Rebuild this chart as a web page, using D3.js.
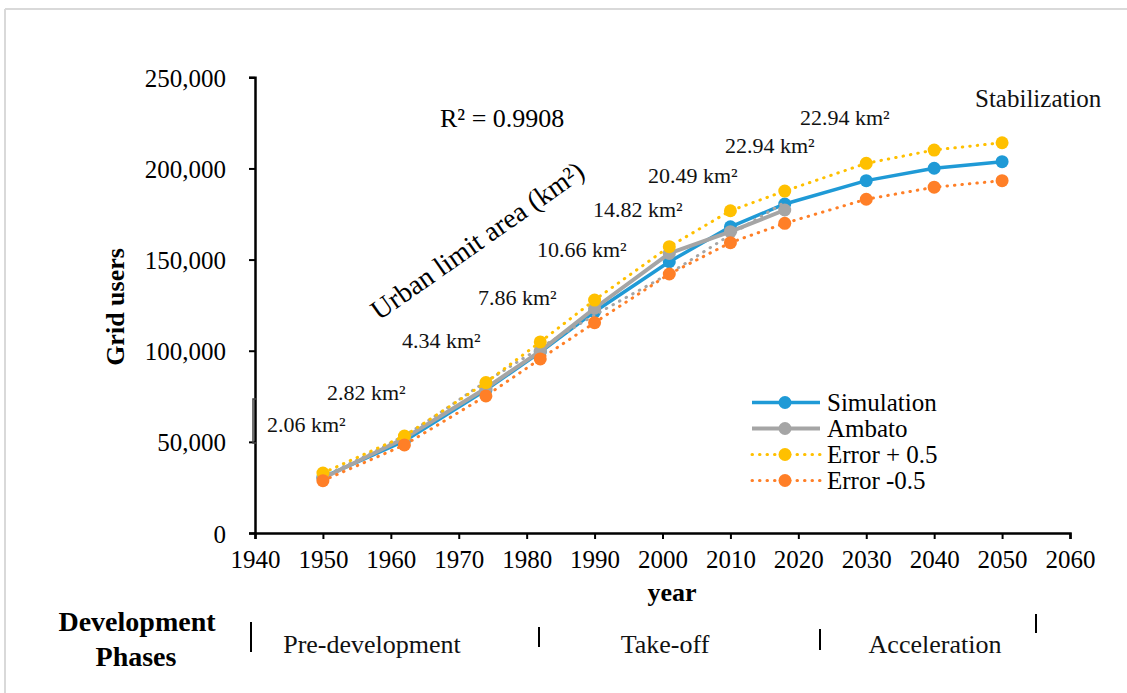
<!DOCTYPE html>
<html>
<head>
<meta charset="utf-8">
<script src="https://cdn.jsdelivr.net/npm/d3@7/dist/d3.min.js"></script>
<style>
  html, body { margin: 0; padding: 0; background: #fff; }
  svg { display: block; }
</style>
</head>
<body>
<svg id="chart" width="1127" height="693" font-family="Liberation Serif"></svg>
<script>
// ---- data ----
const years = [1950, 1962, 1974, 1982, 1990, 2001, 2010, 2018, 2030, 2040, 2050];
const simulation = [30500, 50500, 78500, 99300, 121400, 148800, 168000, 180500, 193300, 200100, 203700];
const ambatoYears = [1950, 1962, 1974, 1982, 1990, 2001, 2010, 2018];
const ambato = [30000, 52000, 79400, 99800, 123300, 153400, 165300, 177200];
const errorPlus = [32900, 53200, 82500, 104800, 127800, 157100, 176800, 187600, 202800, 210100, 214100];
const errorMinus = [28700, 48300, 75200, 95500, 115400, 142100, 159300, 169900, 183100, 189700, 193300];
const trendYears = [1950, 1962, 1974, 1982, 1990, 2001, 2010, 2018];
const trend = [31000, 53500, 83000, 101500, 119500, 142500, 163500, 181500];
const xTicks = [1940, 1950, 1960, 1970, 1980, 1990, 2000, 2010, 2020, 2030, 2040, 2050, 2060];
const yTicks = [0, 50000, 100000, 150000, 200000, 250000];
const areaLabels = ["2.06 km²", "2.82 km²", "4.34 km²", "7.86 km²", "10.66 km²", "14.82 km²", "20.49 km²", "22.94 km²", "22.94 km²"];
const phases = ["Pre-development", "Take-off", "Acceleration"];

const FONT = "Liberation Serif";
const svg = d3.select("#chart");

// frame
svg.append("line").attr("x1", 5).attr("y1", 9).attr("x2", 1127).attr("y2", 9)
  .attr("stroke", "#d9d9d9").attr("stroke-width", 2);
svg.append("line").attr("x1", 5).attr("y1", 9).attr("x2", 5).attr("y2", 693)
  .attr("stroke", "#d9d9d9").attr("stroke-width", 2);

const x = d3.scaleLinear().domain([1940, 2060]).range([255, 1070]);
const y = d3.scaleLinear().domain([0, 250000]).range([533, 77.3]);

// axes
const xAxis = svg.append("g").attr("transform", `translate(0,${y(0)})`)
  .call(d3.axisBottom(x).tickValues(xTicks).tickFormat(d3.format("d")).tickSizeOuter(0).tickSize(6));
const yAxis = svg.append("g").attr("transform", `translate(${x(1940)},0)`)
  .call(d3.axisLeft(y).tickValues(yTicks).tickFormat(d3.format(",")).tickSizeOuter(0).tickSize(6));
[xAxis, yAxis].forEach(g => {
  g.attr("font-family", FONT).attr("font-size", 25);
  g.select(".domain").attr("stroke", "#000").attr("stroke-width", 2.5);
  g.selectAll(".tick line").attr("stroke", "#000").attr("stroke-width", 2);
  g.selectAll(".tick text").attr("font-family", FONT).attr("font-size", 25).attr("fill", "#000");
});
xAxis.selectAll(".tick text").attr("dy", "1.05em");
yAxis.selectAll(".tick text").attr("x", -29).attr("dy", "0.36em");

function txt(xp, yp, s, size, opts) {
  opts = opts || {};
  const t = svg.append("text").attr("font-family", FONT).attr("font-size", size)
    .attr("fill", opts.fill || "#000").text(s);
  if (opts.transform) t.attr("transform", opts.transform); else t.attr("x", xp).attr("y", yp);
  if (opts.anchor) t.attr("text-anchor", opts.anchor);
  if (opts.bold) t.attr("font-weight", "bold");
  return t;
}

// axis titles
txt(0, 0, "Grid users", 26, { transform: "translate(124,307) rotate(-90)", anchor: "middle", bold: true });
txt(672, 601, "year", 26, { anchor: "middle", bold: true });

// lines
const line = (xs) => d3.line().x((d, i) => x(xs[i])).y(d => y(d));
const plot = svg.append("g");

function series(xs, vals, color, width, dash, curve) {
  const l = line(xs);
  if (curve) l.curve(curve);
  plot.append("path").datum(vals).attr("d", l).attr("fill", "none")
    .attr("stroke", color).attr("stroke-width", width)
    .attr("stroke-dasharray", dash || null).attr("stroke-linecap", dash ? "round" : "butt")
    .attr("stroke-linejoin", "round");
}
function markers(xs, vals, color) {
  plot.append("g").selectAll("circle").data(vals).join("circle")
    .attr("cx", (d, i) => x(xs[i])).attr("cy", d => y(d)).attr("r", 6.5).attr("fill", color);
}

const cBlue = "#1f9ad6", cGray = "#a5a5a5", cYellow = "#ffc000", cOrange = "#ff7f27";

series(years, simulation, cBlue, 3.5);
markers(years, simulation, cBlue);
series(ambatoYears, ambato, cGray, 4);
markers(ambatoYears, ambato, cGray);
series(trendYears, trend, cGray, 3, "0.5 7", d3.curveCatmullRom);
series(years, errorPlus, cYellow, 3, "0.5 7");
markers(years, errorPlus, cYellow);
series(years, errorMinus, cOrange, 3, "0.5 7");
markers(years, errorMinus, cOrange);

// annotations
const annPos = [[267, 432], [327, 400], [402, 348], [478, 305], [537, 257], [593, 217], [648, 183], [725, 153], [800, 125]];
areaLabels.forEach((s, i) => txt(annPos[i][0], annPos[i][1], s, 22, { fill: "#111" }));

svg.append("path").attr("d", "M257,399 L253,399 L253,443 L257,443")
  .attr("fill", "none").attr("stroke", "#444").attr("stroke-width", 1.5);

txt(440, 127, "R² = 0.9908", 26);
txt(975, 107, "Stabilization", 25, { fill: "#111" });
txt(0, 0, "Urban limit area (km²)", 28, { transform: "translate(379,321) rotate(-35)" });

// legend
const legendItems = [
  { name: "Simulation", color: cBlue, dash: null, w: 3.5 },
  { name: "Ambato", color: cGray, dash: null, w: 4 },
  { name: "Error + 0.5", color: cYellow, dash: "0.5 7", w: 3 },
  { name: "Error -0.5", color: cOrange, dash: "0.5 7", w: 3 }
];
const lg = svg.append("g").selectAll("g").data(legendItems).join("g")
  .attr("transform", (d, i) => `translate(752,${402.5 + i * 26})`);
lg.append("line").attr("x1", 0).attr("x2", 68).attr("y1", 0).attr("y2", 0)
  .attr("stroke", d => d.color).attr("stroke-width", d => d.w)
  .attr("stroke-dasharray", d => d.dash).attr("stroke-linecap", d => d.dash ? "round" : "butt");
lg.append("circle").attr("cx", 33).attr("cy", 0).attr("r", 6.5).attr("fill", d => d.color);
lg.append("text").attr("x", 75).attr("y", 0).attr("dy", "0.35em")
  .attr("font-family", FONT).attr("font-size", 25).attr("fill", "#000").text(d => d.name);

// development phases
txt(137, 631, "Development", 28, { anchor: "middle", bold: true });
txt(136, 666, "Phases", 28, { anchor: "middle", bold: true });
const phaseX = [372, 665, 935];
phases.forEach((s, i) => txt(phaseX[i], 653, s, 26, { anchor: "middle", fill: "#111" }));
const seps = [[251, 622, 652], [539, 627, 647], [820, 629, 650], [1036, 614, 633]];
svg.append("g").selectAll("line").data(seps).join("line")
  .attr("x1", d => d[0]).attr("x2", d => d[0]).attr("y1", d => d[1]).attr("y2", d => d[2])
  .attr("stroke", "#000").attr("stroke-width", 2);
</script>
</body>
</html>
